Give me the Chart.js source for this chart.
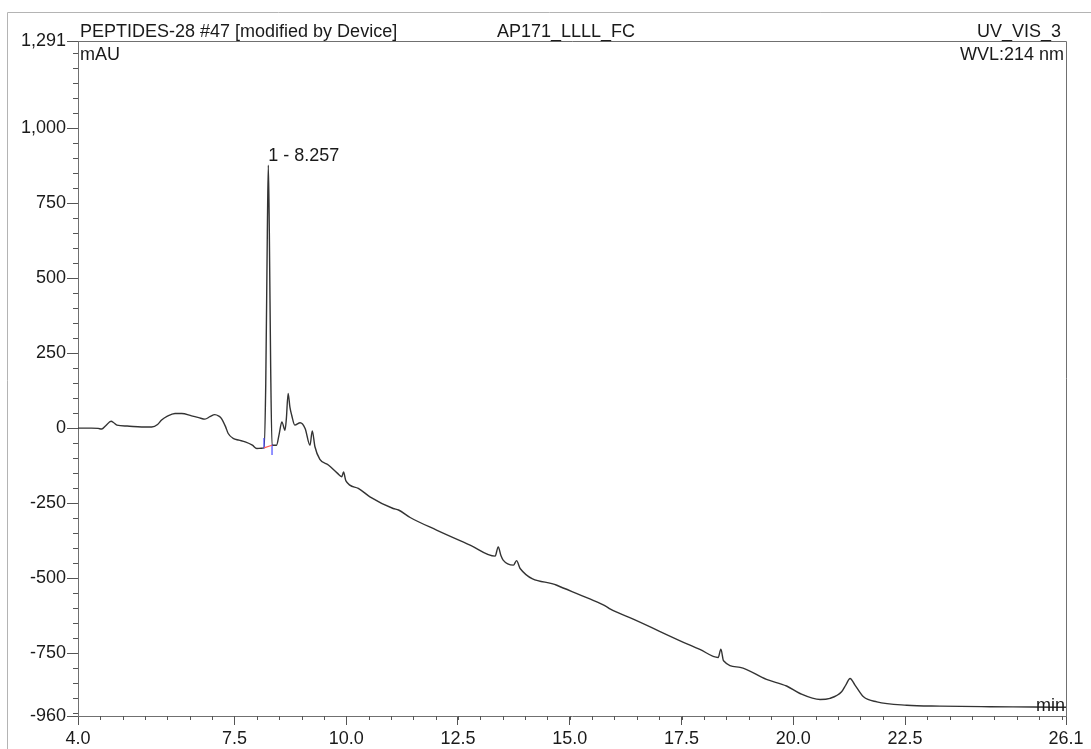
<!DOCTYPE html>
<html>
<head>
<meta charset="utf-8">
<script src="https://cdn.jsdelivr.net/npm/chart.js@4"></script>
<style>
  html, body { margin: 0; padding: 0; background: #fff; }
</style>
</head>
<body>
<canvas id="chroma" width="1091" height="749"></canvas>
<script>
// retention time (min) and signal (mAU)
const retention = [
  4.0, 4.3, 4.45, 4.53, 4.62, 4.74, 4.8, 4.87, 5.1, 5.42, 5.65, 5.78, 5.87, 6.0, 6.17, 6.32,
  6.54, 6.7, 6.84, 6.95, 7.06, 7.15, 7.21, 7.3, 7.36, 7.47, 7.6, 7.74, 7.9, 8.0, 8.1, 8.16,
  8.2, 8.235, 8.257, 8.28, 8.31, 8.34, 8.44, 8.5, 8.56, 8.63, 8.66, 8.7, 8.74, 8.78, 8.85,
  8.97, 9.08, 9.19, 9.24, 9.3, 9.41, 9.6, 9.8, 9.9, 9.94, 9.99, 10.27, 10.53, 11.05, 11.17,
  11.43, 12.02, 12.77, 13.33, 13.4, 13.46, 13.51, 13.74, 13.81, 13.89, 14.71, 15.42, 15.83,
  15.9, 16.42, 17.69, 17.91, 18.32, 18.38, 18.44, 18.81, 19.4, 19.85, 20.15, 20.6, 20.82,
  21.08, 21.18, 21.27, 21.38, 21.57, 21.87, 22.54, 23.28, 24.4, 25.37, 26.1
];
const absorbance = [
  0, 0, -1, -3, 8, 23, 18, 10, 7, 4, 4, 12, 27, 40, 49, 49,
  41, 35, 30, 38, 45, 40, 32, 5, -18, -34, -40, -46, -57, -68, -67, -66,
  150, 650, 877, 650, 200, -57, -57, -20, 21, -7, 30, 116, 70, 43, 10,
  18, -1, -57, -9, -62, -104, -123, -150, -162, -146, -175, -201, -229, -268, -273,
  -298, -340, -390, -427, -396, -425, -440, -457, -442, -468, -524, -568, -596,
  -603, -637, -724, -738, -765, -737, -776, -798, -838, -860, -885, -905, -901,
  -879, -855, -835, -857, -896, -913, -924, -927, -929, -930, -931
];

const xTickValues = [4.0, 7.5, 10.0, 12.5, 15.0, 17.5, 20.0, 22.5, 26.1];
const yTickValues = [-960, -750, -500, -250, 0, 250, 500, 750, 1000, 1291];

// integration baseline of peak 1
const baseTimes = [8.16, 8.34];
const baseValues = [-66, -57];
const leftMarkY = [-33, -68];
const rightMarkY = [-55, -90];

const peakTime = 8.257;
const peakHeight = 877;
const peakName = '1 - 8.257';

const FONT = '"Liberation Sans", Arial, sans-serif';
const FS = 18;

const extras = {
  id: 'extras',
  afterDraw(chart) {
    const ctx = chart.ctx;
    const a = chart.chartArea;
    const xs = chart.scales.x, ys = chart.scales.y;
    ctx.save();

    // outer frame
    ctx.strokeStyle = '#b4b4b4';
    ctx.lineWidth = 1;
    ctx.beginPath();
    ctx.moveTo(7.5, 749); ctx.lineTo(7.5, 12.5); ctx.lineTo(1091, 12.5);
    ctx.stroke();

    // top and right edge of the plot
    ctx.strokeStyle = '#707070';
    ctx.beginPath();
    ctx.moveTo(a.left, a.top + 0.5); ctx.lineTo(a.right + 0.5, a.top + 0.5); ctx.lineTo(a.right + 0.5, a.bottom);
    ctx.stroke();

    // minor ticks
    ctx.strokeStyle = '#555';
    ctx.beginPath();
    for (let v = 4.5; v < 26.1; v += 0.5) {
      const px = Math.round(xs.getPixelForValue(v)) + 0.5;
      ctx.moveTo(px, a.bottom); ctx.lineTo(px, a.bottom + 4);
    }
    for (let v = -950; v < 1291; v += 50) {
      const py = Math.round(ys.getPixelForValue(v)) + 0.5;
      ctx.moveTo(a.left, py); ctx.lineTo(a.left - 5, py);
    }
    ctx.stroke();

    ctx.fillStyle = '#1a1a1a';
    ctx.font = FS + 'px ' + FONT;
    ctx.textBaseline = 'alphabetic';
    ctx.textAlign = 'left';
    ctx.fillText('PEPTIDES-28 #47 [modified by Device]', 80, 37);
    ctx.fillText('AP171_LLLL_FC', 497, 37);
    ctx.fillText('mAU', 80, 60);
    ctx.textAlign = 'right';
    ctx.fillText('UV_VIS_3', 1061, 37);
    ctx.fillText('WVL:214 nm', 1064, 60);
    ctx.fillText('min', 1065, 711);

    ctx.textAlign = 'left';
    ctx.fillText(peakName, xs.getPixelForValue(peakTime), ys.getPixelForValue(peakHeight) - 4);
    ctx.restore();
  }
};

new Chart(document.getElementById('chroma'), {
  type: 'line',
  data: {
    datasets: [
      {
        data: retention.map((t, i) => ({ x: t, y: absorbance[i] })),
        borderColor: '#333',
        borderWidth: 1.4,
        pointRadius: 0,
        cubicInterpolationMode: 'monotone',
        order: 2
      },
      {
        data: baseTimes.map((t, i) => ({ x: t, y: baseValues[i] })),
        borderColor: '#ff5a5a',
        borderWidth: 1.2,
        pointRadius: 0,
        order: 1
      },
      {
        data: leftMarkY.map(v => ({ x: baseTimes[0], y: v })),
        borderColor: '#4a4aff',
        borderWidth: 1.2,
        pointRadius: 0,
        order: 1
      },
      {
        data: rightMarkY.map(v => ({ x: baseTimes[1], y: v })),
        borderColor: '#4a4aff',
        borderWidth: 1.2,
        pointRadius: 0,
        order: 1
      }
    ]
  },
  options: {
    responsive: false,
    devicePixelRatio: 1,
    animation: false,
    layout: { padding: { top: 41, right: 25, left: 0, bottom: 0 } },
    plugins: { legend: { display: false }, tooltip: { enabled: false } },
    scales: {
      x: {
        type: 'linear',
        min: 4.0,
        max: 26.1,
        afterBuildTicks: s => { s.ticks = xTickValues.map(v => ({ value: v })); },
        afterFit: s => { s.height = 33; },
        ticks: {
          callback: v => v.toFixed(1),
          font: { family: FONT, size: FS },
          color: '#1a1a1a',
          padding: 3,
          maxRotation: 0,
          autoSkip: false
        },
        grid: { drawOnChartArea: false, tickLength: 9, tickColor: '#555' },
        border: { color: '#707070' }
      },
      y: {
        min: -960,
        max: 1291,
        afterBuildTicks: s => { s.ticks = yTickValues.map(v => ({ value: v })); },
        afterFit: s => { s.width = 78; },
        ticks: {
          callback: v => v.toLocaleString('en-US'),
          font: { family: FONT, size: FS },
          color: '#1a1a1a',
          padding: 1,
          autoSkip: false
        },
        grid: { drawOnChartArea: false, tickLength: 11, tickColor: '#555' },
        border: { color: '#707070' }
      }
    }
  },
  plugins: [extras]
});
</script>
</body>
</html>
